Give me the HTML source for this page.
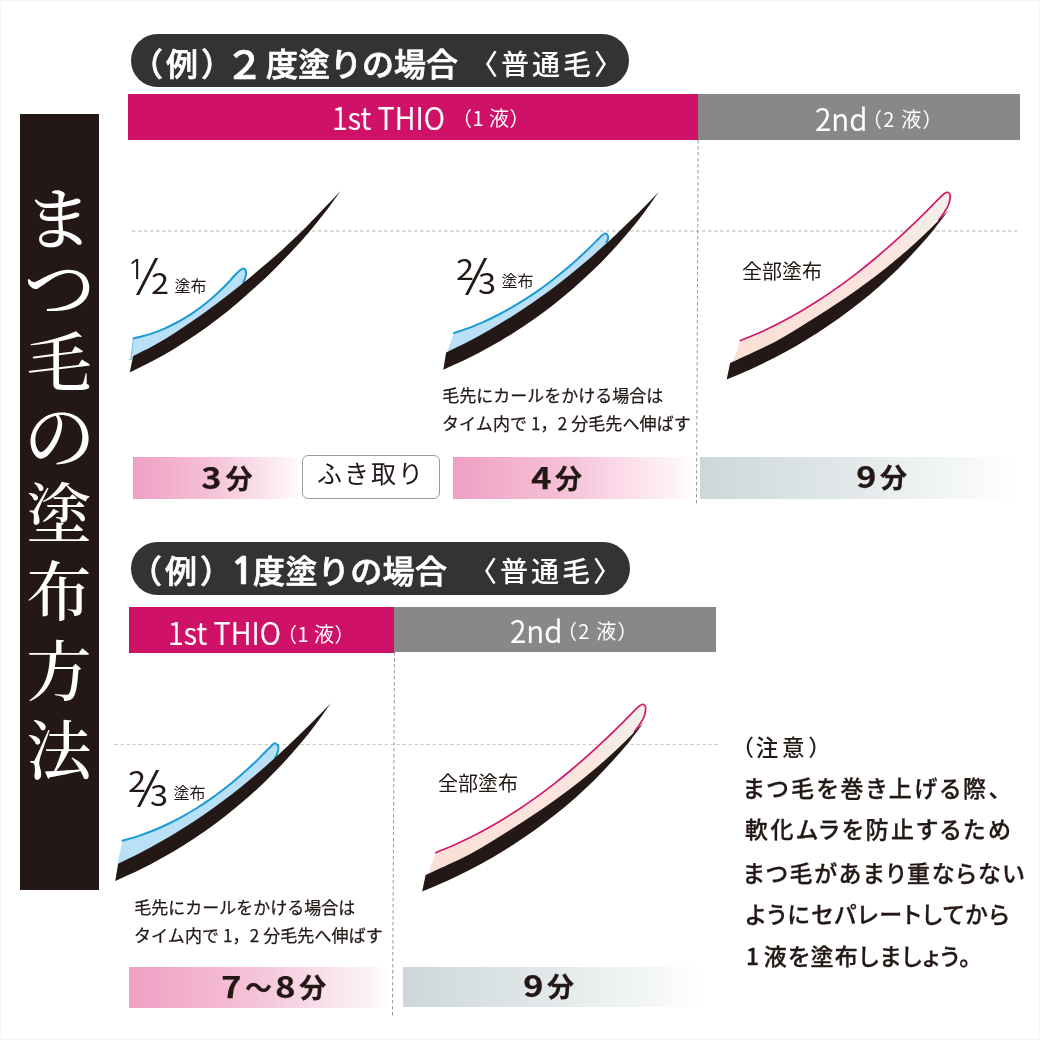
<!DOCTYPE html>
<html lang="ja">
<head>
<meta charset="utf-8">
<title>まつ毛の塗布方法</title>
<style>
html,body{margin:0;padding:0;background:#fff;}
body{width:1040px;height:1040px;position:relative;overflow:hidden;font-family:"Noto Sans CJK JP","Liberation Sans",sans-serif;color:#231815;}
.abs{position:absolute;}
.nw{white-space:nowrap;line-height:1;}
#vbar{left:20px;top:114px;width:79px;height:776px;background:#231815;}
.vt{position:absolute;left:20px;width:79px;text-align:center;color:#fff;font-family:"Noto Serif CJK JP","Noto Serif CJK SC",serif;font-weight:500;font-size:65px;line-height:1;}
.pill{background:#333;border-radius:27px;color:#fff;}
.pt{color:#fff;font-weight:500;font-size:32px;-webkit-text-stroke:0.7px #fff;}
.pt2{color:#fff;font-weight:500;font-size:28px;letter-spacing:3px;}
.mag{background:#cf1267;}
.gry{background:#888888;}
.hl{color:#fff;font-weight:400;font-size:30px;letter-spacing:-0.6px;-webkit-text-stroke:0.2px #fff;}
.hs{color:#fff;font-weight:400;font-size:20px;}
.gp{background:linear-gradient(90deg,#efa0c3 0%,#f5c0d7 45%,#fdf4f8 93%,#ffffff 100%);}
.gg{background:linear-gradient(90deg,#cdd7d9 0%,#e3e9ea 50%,#ffffff 100%);}
.tm{font-weight:700;font-size:27px;letter-spacing:3px;text-align:center;-webkit-text-stroke:0.25px #231815;}
.tm b{display:inline-block;font-size:29px;font-weight:700;transform:scaleX(1.18);margin:0 2px;}
.sm{font-size:16px;font-weight:400;}
.cap{font-size:17px;font-weight:400;letter-spacing:0;-webkit-text-stroke:0.25px #231815;}
.all{font-size:20px;font-weight:400;}
.fr{font-size:29px;font-weight:400;transform:scaleX(1.12);transform-origin:0 0;}
.sl{font-size:54px;font-weight:400;transform:scaleX(0.82);transform-origin:0 0;}
.note{font-size:23px;font-weight:500;letter-spacing:2px;font-feature-settings:"palt";-webkit-text-stroke:0.3px #231815;}
</style>
</head>
<body>
<div id="frame" class="abs" style="left:0;top:0;width:1038px;height:1038px;border:1px solid #f6f6f6"></div>
<!-- vertical title -->
<div id="vbar" class="abs"></div>
<div id="e1" class="vt" style="top:181px;font-size:68px;left:19px">ま</div>
<div id="e2" class="vt" style="top:247px;font-size:72px">つ</div>
<div id="e3" class="vt" style="top:326px;left:19.5px">毛</div>
<div id="e4" class="vt" style="top:396px;font-size:72px">の</div>
<div id="e5" class="vt" style="top:476.7px;left:19.5px">塗</div>
<div id="e6" class="vt" style="top:555px;left:19.5px">布</div>
<div id="e7" class="vt" style="top:635px;left:19.5px">方</div>
<div id="e8" class="vt" style="top:713.5px;left:19.5px">法</div>

<!-- section 1 -->
<div class="abs pill" style="left:131px;top:34px;width:498px;height:53px"></div>
<div id="e9" class="abs nw pt" style="left:131px;top:46px;letter-spacing:3px">（例）</div><div id="e10" class="abs nw pt" style="left:225px;top:42.5px;font-size:39px;font-weight:500">２</div><div id="e11" class="abs nw pt" style="left:266px;top:46px">度塗りの場合</div>
<div id="e12" class="abs nw pt2" style="left:470px;top:49px">〈普通毛〉</div>
<div class="abs mag" style="left:128px;top:94px;width:570px;height:46px"></div>
<div class="abs gry" style="left:698px;top:94px;width:322px;height:46px"></div>
<div id="e13" class="abs nw hl" style="left:332px;top:101px;letter-spacing:0;font-weight:350;font-size:31px;transform:scaleX(0.928);transform-origin:0 0">1st THIO</div>
<div id="e14" class="abs nw hs" style="left:452px;top:108px;letter-spacing:0.5px">（1 液）</div>
<div id="e15" class="abs nw hl" style="left:815px;top:101.5px;font-size:31px;letter-spacing:0;font-weight:350;transform:scaleX(0.955);transform-origin:0 0">2nd</div>
<div id="e16" class="abs nw hs" style="left:862px;top:109px;letter-spacing:1.2px">（2 液）</div>

<div class="abs gp" style="left:133px;top:457px;width:169px;height:42px"></div>
<div id="e17" class="abs nw tm" style="left:144px;top:462px;width:169px"><b>3</b>分</div>
<div class="abs" style="left:302px;top:455px;width:136px;height:42px;border:1px solid #9a9a9a;border-radius:6px;background:#fff"></div>
<div id="e18" class="abs nw" style="left:302px;top:460px;width:138px;text-align:center;font-size:25px;letter-spacing:2px">ふき取り</div>
<div class="abs gp" style="left:453px;top:457px;width:241px;height:42px"></div>
<div id="e19" class="abs nw tm" style="left:453px;top:462px;width:210px"><b>4</b>分</div>
<div class="abs gg" style="left:699.5px;top:457px;width:320.5px;height:41.5px"></div>
<div id="e20" class="abs nw tm" style="left:723px;top:461px;width:320px"><b>9</b>分</div>

<div id="e21" class="abs nw cap" style="left:442.3px;top:386px">毛先にカールをかける場合は</div>
<div id="e22" class="abs nw cap" style="left:442px;top:414px;letter-spacing:0.1px">タイム内で 1，2 分毛先へ伸ばす</div>
<div id="e23" class="abs nw all" style="left:742px;top:261px">全部塗布</div>


<!-- fraction labels -->
<div id="e24" class="abs nw fr" style="left:127.3px;top:256px;font-family:'NanumGothic',sans-serif;font-size:27px">1</div>
<div id="e25" class="abs nw sl" style="left:145px;top:244.5px">⁄</div>
<div id="e26" class="abs nw fr" style="left:150.5px;top:267px">2</div>
<div id="e27" class="abs nw sm" style="left:174.5px;top:277px">塗布</div>
<div id="e28" class="abs nw fr" style="left:456px;top:252.5px">2</div>
<div id="e29" class="abs nw sl" style="left:473.5px;top:245px">⁄</div>
<div id="e30" class="abs nw fr" style="left:478px;top:267px">3</div>
<div id="e31" class="abs nw sm" style="left:501.5px;top:272px">塗布</div>
<div id="e32" class="abs nw fr" style="left:128px;top:764.5px">2</div>
<div id="e33" class="abs nw sl" style="left:145.5px;top:757px">⁄</div>
<div id="e34" class="abs nw fr" style="left:150px;top:779px">3</div>
<div id="e35" class="abs nw sm" style="left:173.5px;top:784px">塗布</div>

<!-- section 2 -->
<div class="abs pill" style="left:131px;top:542px;width:499px;height:53px"></div>
<div id="e36" class="abs nw pt" style="left:130px;top:553px;letter-spacing:3px">（例）</div><div id="e37" class="abs nw pt" style="left:230px;top:554px;font-size:36px;font-family:'NanumGothic',sans-serif;font-weight:700;transform:scaleX(1.15);transform-origin:0 0">1</div><div id="e38" class="abs nw pt" style="left:253px;top:553px;letter-spacing:0.4px">度塗りの場合</div>
<div id="e39" class="abs nw pt2" style="left:469px;top:555.5px">〈普通毛〉</div>
<div class="abs mag" style="left:128.8px;top:606.5px;width:265.7px;height:46px"></div>
<div class="abs gry" style="left:394.3px;top:606.8px;width:321.5px;height:44.8px"></div>
<div id="e40" class="abs nw hl" style="left:167.5px;top:616px;letter-spacing:0;font-size:31px;font-weight:350;transform:scaleX(0.928);transform-origin:0 0">1st THIO</div>
<div id="e41" class="abs nw hs" style="left:277px;top:624px;letter-spacing:0.5px">（1 液）</div>
<div id="e42" class="abs nw hl" style="left:510px;top:614px;font-size:31px;letter-spacing:0;font-weight:350;transform:scaleX(0.955);transform-origin:0 0">2nd</div>
<div id="e43" class="abs nw hs" style="left:557px;top:621px;letter-spacing:1.2px">（2 液）</div>

<div class="abs gp" style="left:129px;top:967px;width:262px;height:41px"></div>
<div id="e44" class="abs nw tm" style="left:130px;top:970.5px;width:290px"><b>7</b>～<b>8</b>分</div>
<div class="abs gg" style="left:403px;top:966.5px;width:304px;height:40.5px"></div>
<div id="e45" class="abs nw tm" style="left:402px;top:970px;width:296px"><b>9</b>分</div>
<div id="e46" class="abs nw cap" style="left:134.3px;top:898px">毛先にカールをかける場合は</div>
<div id="e47" class="abs nw cap" style="left:134px;top:926px;letter-spacing:0.1px">タイム内で 1，2 分毛先へ伸ばす</div>
<div id="e48" class="abs nw all" style="left:438px;top:773px">全部塗布</div>

<!-- note -->
<div id="e49" class="abs nw" style="left:731.5px;top:735px;font-size:22.5px;letter-spacing:3.7px;font-weight:500"><span style="letter-spacing:1.8px">（</span>注意）</div>
<div id="e50" class="abs nw note" style="left:743px;top:776px;letter-spacing:2.6px">まつ毛を巻き上げる際、</div>
<div id="e51" class="abs nw note" style="left:745px;top:817px;letter-spacing:2.6px">軟化ムラを防止するため</div>
<div id="e52" class="abs nw note" style="left:743px;top:861px;letter-spacing:1.85px">まつ毛があまり重ならない</div>
<div id="e53" class="abs nw note" style="left:745.5px;top:901.5px;letter-spacing:1.45px">ようにセパレートしてから</div>
<div id="e54" class="abs nw note" style="left:746px;top:943.5px;letter-spacing:1.25px"><span style="letter-spacing:4.6px">1</span>液を塗布しましょう。</div>

<!-- lashes -->
<svg class="abs" style="left:0;top:0" width="1040" height="1040" viewBox="0 0 1040 1040">
<g fill="none" stroke-dasharray="3.4 2.6">
<line x1="132" y1="231" x2="1020" y2="231" stroke="#b4b4b4" stroke-width="1"/>
<line x1="114.5" y1="744.5" x2="718" y2="744.5" stroke="#bdbdbd" stroke-width="0.8"/>
<line x1="698.2" y1="140" x2="696.5" y2="504" stroke="#8c8c8c" stroke-width="0.9"/>
<line x1="394.5" y1="652" x2="392.5" y2="1016" stroke="#8c8c8c" stroke-width="0.9"/>
</g>
<!--LASH-->
<path d="M133.4,338.4 C135.2,338.0 140.6,336.8 144.2,335.8 C147.7,334.8 151.3,333.7 154.7,332.4 C158.2,331.2 161.6,329.8 165.0,328.3 C168.4,326.8 171.7,325.2 175.0,323.5 C178.2,321.8 181.5,320.0 184.6,318.1 C187.8,316.2 190.9,314.2 194.0,312.1 C197.0,310.0 200.0,307.8 203.0,305.5 C205.9,303.3 208.8,300.9 211.6,298.5 C214.4,296.1 217.1,293.6 219.8,291.0 C222.5,288.5 225.1,285.9 227.6,283.2 C230.2,280.5 233.8,276.4 235.0,275.0 C235.8,274.2 238.6,271.4 240.0,270.3 C241.4,269.2 242.6,268.2 243.6,268.4 C244.6,268.6 245.7,270.1 246.0,271.5 C246.3,272.9 246.0,275.1 245.5,277.0 C245.0,278.9 243.5,282.1 243.1,283.1 L237.3,292.8 L221.1,305.4 L204.6,317.6 L187.8,329.4 L170.6,340.5 L152.9,350.9 L134.6,360.2 L130.9,359.5 Z" fill="#b9e0f7"/>
<path d="M133.4,338.4 C135.2,338.0 140.6,336.8 144.2,335.8 C147.7,334.8 151.3,333.7 154.7,332.4 C158.2,331.2 161.6,329.8 165.0,328.3 C168.4,326.8 171.7,325.2 175.0,323.5 C178.2,321.8 181.5,320.0 184.6,318.1 C187.8,316.2 190.9,314.2 194.0,312.1 C197.0,310.0 200.0,307.8 203.0,305.5 C205.9,303.3 208.8,300.9 211.6,298.5 C214.4,296.1 217.1,293.6 219.8,291.0 C222.5,288.5 225.1,285.9 227.6,283.2 C230.2,280.5 233.8,276.4 235.0,275.0 C235.8,274.2 238.6,271.4 240.0,270.3 C241.4,269.2 242.6,268.2 243.6,268.4 C244.6,268.6 245.7,270.1 246.0,271.5 C246.3,272.9 246.0,275.1 245.5,277.0 C245.0,278.9 243.5,282.1 243.1,283.1" fill="none" stroke="#1a9bd8" stroke-width="2.0" stroke-linecap="round" stroke-linejoin="round"/>
<path d="M133.4,338.4 L130.9,359.3 L128.9,359.8" fill="none" stroke="#5fb8e6" stroke-width="0.9"/>
<path d="M133.1,356.2 C136.7,354.4 147.6,349.0 154.7,345.1 C161.8,341.1 168.6,336.9 175.4,332.5 C182.2,328.2 188.9,323.6 195.5,319.0 C202.1,314.4 208.6,309.6 215.1,304.8 C221.6,299.9 228.0,295.0 234.4,290.0 C240.7,285.0 247.0,279.9 253.3,274.7 C259.5,269.6 265.7,264.4 271.8,259.1 C277.8,253.7 283.9,248.4 289.7,242.8 C295.6,237.3 301.4,231.7 307.1,225.9 C312.7,220.2 318.2,214.3 323.8,208.4 C329.4,202.6 337.8,193.8 340.6,190.9 C338.1,194.4 330.8,204.8 325.6,211.6 C320.5,218.3 315.1,225.0 309.6,231.4 C304.0,237.9 298.3,244.3 292.5,250.5 C286.7,256.7 280.7,262.8 274.7,268.9 C268.6,274.9 262.4,280.8 256.1,286.5 C249.8,292.3 243.4,297.9 236.9,303.4 C230.3,308.9 223.7,314.3 216.9,319.4 C210.1,324.6 203.2,329.6 196.2,334.5 C189.2,339.3 182.1,343.9 174.8,348.4 C167.5,352.8 160.1,357.1 152.6,361.1 C145.1,365.1 133.5,370.6 129.7,372.5 Z" fill="#231815"/>
<path d="M453.9,333.1 C456.4,332.2 464.0,329.7 468.9,327.9 C473.9,326.0 478.8,323.9 483.6,321.8 C488.4,319.6 493.2,317.4 497.9,315.0 C502.6,312.6 507.2,310.0 511.8,307.4 C516.4,304.8 520.9,302.0 525.3,299.2 C529.8,296.3 534.2,293.4 538.5,290.4 C542.8,287.3 547.1,284.2 551.3,281.0 C555.5,277.7 559.6,274.4 563.7,271.0 C567.7,267.7 571.8,264.2 575.7,260.7 C579.6,257.1 583.5,253.5 587.3,249.9 C591.2,246.2 596.7,240.6 598.6,238.8 C599.2,238.1 601.4,235.9 602.5,235.0 C603.6,234.1 604.5,233.2 605.4,233.4 C606.3,233.6 607.6,235.0 608.0,236.0 C608.4,237.0 608.1,238.4 607.8,239.5 C607.5,240.6 606.6,242.0 606.4,242.5 L601.1,253.6 L585.6,267.1 L569.7,280.3 L553.5,292.9 L536.8,304.9 L519.7,316.4 L502.2,327.3 L484.4,337.7 L466.2,347.4 L447.6,356.5 L447.5,351.5 Z" fill="#b9e0f7"/>
<path d="M453.9,333.1 C456.4,332.2 464.0,329.7 468.9,327.9 C473.9,326.0 478.8,323.9 483.6,321.8 C488.4,319.6 493.2,317.4 497.9,315.0 C502.6,312.6 507.2,310.0 511.8,307.4 C516.4,304.8 520.9,302.0 525.3,299.2 C529.8,296.3 534.2,293.4 538.5,290.4 C542.8,287.3 547.1,284.2 551.3,281.0 C555.5,277.7 559.6,274.4 563.7,271.0 C567.7,267.7 571.8,264.2 575.7,260.7 C579.6,257.1 583.5,253.5 587.3,249.9 C591.2,246.2 596.7,240.6 598.6,238.8 C599.2,238.1 601.4,235.9 602.5,235.0 C603.6,234.1 604.5,233.2 605.4,233.4 C606.3,233.6 607.6,235.0 608.0,236.0 C608.4,237.0 608.1,238.4 607.8,239.5 C607.5,240.6 606.6,242.0 606.4,242.5" fill="none" stroke="#1a9bd8" stroke-width="2.0" stroke-linecap="round" stroke-linejoin="round"/>
<path d="M446.1,352.5 C449.8,350.7 460.8,345.4 468.0,341.7 C475.2,337.9 482.4,334.0 489.4,330.0 C496.5,325.9 503.4,321.8 510.3,317.4 C517.2,313.1 524.0,308.7 530.7,304.1 C537.3,299.5 544.0,294.8 550.5,290.0 C557.0,285.1 563.4,280.2 569.7,275.1 C576.0,270.0 582.2,264.8 588.4,259.5 C594.5,254.2 600.6,248.7 606.6,243.3 C612.6,237.8 618.5,232.2 624.3,226.5 C630.2,220.9 636.0,215.1 641.7,209.4 C647.4,203.6 655.9,194.8 658.7,191.9 C656.3,195.4 649.0,206.0 643.8,212.9 C638.7,219.7 633.3,226.5 627.8,233.0 C622.3,239.6 616.6,246.0 610.8,252.3 C604.9,258.5 598.9,264.7 592.7,270.6 C586.5,276.6 580.2,282.4 573.7,288.0 C567.2,293.6 560.6,299.1 553.8,304.4 C547.1,309.7 540.2,314.8 533.2,319.7 C526.1,324.6 519.0,329.4 511.7,333.9 C504.4,338.5 497.0,342.9 489.5,347.0 C482.0,351.2 474.4,355.2 466.7,359.0 C459.0,362.8 447.2,367.9 443.3,369.7 Z" fill="#231815"/>
<defs><linearGradient id="pg1" gradientUnits="userSpaceOnUse" x1="740" y1="345" x2="946" y2="196"><stop offset="0" stop-color="#fae0d7"/><stop offset="0.72" stop-color="#fae6df"/><stop offset="1" stop-color="#f1f0ed"/></linearGradient><linearGradient id="pg2" gradientUnits="userSpaceOnUse" x1="435.5" y1="857" x2="641.5" y2="708"><stop offset="0" stop-color="#fae0d7"/><stop offset="0.72" stop-color="#fae6df"/><stop offset="1" stop-color="#f1f0ed"/></linearGradient></defs>
<path d="M740.4,340.6 C743.9,339.1 754.6,334.9 761.5,331.8 C768.4,328.6 775.2,325.3 782.0,321.8 C788.7,318.3 795.3,314.6 801.8,310.8 C808.3,306.9 814.7,302.9 821.1,298.8 C827.4,294.7 833.6,290.4 839.8,285.9 C845.9,281.5 852.0,277.0 858.0,272.3 C863.9,267.7 869.8,262.9 875.6,258.0 C881.4,253.1 887.2,248.1 892.8,243.1 C898.5,238.0 904.1,232.9 909.6,227.6 C915.1,222.4 920.6,217.1 925.9,211.8 C931.3,206.4 939.2,198.3 941.9,195.6 C942.4,195.2 944.0,193.8 945.0,193.2 C946.0,192.6 947.0,192.0 947.8,192.3 C948.6,192.6 949.7,193.7 950.0,195.0 C950.3,196.3 950.1,198.2 949.8,200.0 C949.5,201.8 948.8,204.1 948.0,206.0 C947.2,207.9 946.5,208.9 945.0,211.2 C943.5,213.6 939.8,218.5 938.8,220.0 L935.8,228.8 L920.9,243.1 L905.5,256.9 L889.7,270.3 L873.4,283.0 L856.7,295.2 L839.6,306.8 L822.2,318.0 L804.8,329.0 L787.3,339.9 L769.1,349.6 L750.4,358.4 L731.6,367.1 L732.5,362.0 Z" fill="url(#pg1)"/>
<path d="M740.4,340.6 C743.9,339.1 754.6,334.9 761.5,331.8 C768.4,328.6 775.2,325.3 782.0,321.8 C788.7,318.3 795.3,314.6 801.8,310.8 C808.3,306.9 814.7,302.9 821.1,298.8 C827.4,294.7 833.6,290.4 839.8,285.9 C845.9,281.5 852.0,277.0 858.0,272.3 C863.9,267.7 869.8,262.9 875.6,258.0 C881.4,253.1 887.2,248.1 892.8,243.1 C898.5,238.0 904.1,232.9 909.6,227.6 C915.1,222.4 920.6,217.1 925.9,211.8 C931.3,206.4 939.2,198.3 941.9,195.6 C942.4,195.2 944.0,193.8 945.0,193.2 C946.0,192.6 947.0,192.0 947.8,192.3 C948.6,192.6 949.7,193.7 950.0,195.0 C950.3,196.3 950.1,198.2 949.8,200.0 C949.5,201.8 948.8,204.1 948.0,206.0 C947.2,207.9 946.5,208.9 945.0,211.2 C943.5,213.6 939.8,218.5 938.8,220.0" fill="none" stroke="#d2186c" stroke-width="1.7" stroke-linecap="round" stroke-linejoin="round"/>
<path d="M730.1,363.1 C733.8,361.4 745.0,356.3 752.3,352.8 C759.7,349.4 767.1,346.0 774.3,342.2 C781.5,338.4 788.4,334.2 795.3,330.0 C802.3,325.8 809.1,321.4 816.0,317.0 C822.9,312.6 829.7,308.3 836.5,303.8 C843.3,299.3 850.1,294.8 856.7,290.1 C863.4,285.4 870.0,280.6 876.4,275.6 C882.9,270.6 889.2,265.5 895.4,260.3 C901.7,255.0 907.8,249.7 913.9,244.2 C919.9,238.7 925.8,233.1 931.6,227.4 C937.5,221.7 945.9,212.9 948.8,210.0 C946.1,213.4 938.5,223.7 933.1,230.4 C927.7,237.0 922.1,243.5 916.3,249.8 C910.5,256.2 904.6,262.3 898.5,268.4 C892.4,274.4 886.1,280.2 879.7,285.9 C873.2,291.6 866.6,297.1 859.9,302.5 C853.2,307.8 846.4,313.0 839.4,318.0 C832.4,323.0 825.3,327.8 818.1,332.5 C810.9,337.1 803.5,341.6 796.1,345.9 C788.6,350.2 781.1,354.3 773.5,358.2 C765.8,362.1 758.1,365.8 750.3,369.4 C742.5,372.9 730.6,377.7 726.7,379.4 Z" fill="#231815"/>
<path d="M122.5,840.7 C125.1,839.9 133.0,837.8 138.1,836.1 C143.2,834.4 148.3,832.5 153.3,830.5 C158.2,828.5 163.2,826.3 168.0,824.0 C172.8,821.7 177.6,819.2 182.3,816.6 C187.0,814.0 191.6,811.3 196.2,808.5 C200.8,805.6 205.3,802.6 209.7,799.6 C214.1,796.5 218.4,793.3 222.7,790.0 C227.0,786.7 231.2,783.3 235.3,779.9 C239.5,776.4 243.5,772.8 247.5,769.2 C251.5,765.6 255.4,761.9 259.3,758.1 C263.1,754.3 268.7,748.5 270.6,746.6 C271.0,746.2 272.2,744.8 273.0,744.3 C273.8,743.8 274.4,743.1 275.3,743.4 C276.2,743.7 277.7,744.9 278.2,746.0 C278.7,747.1 278.4,748.7 278.2,750.0 C278.0,751.3 277.5,752.6 277.0,754.0 C276.5,755.4 275.3,757.8 275.0,758.5 L273.1,764.9 L257.6,778.4 L241.7,791.6 L225.5,804.2 L208.8,816.2 L191.7,827.7 L174.2,838.6 L156.4,849.0 L138.2,858.7 L119.6,867.8 L117.3,864.0 Z" fill="#b9e0f7"/>
<path d="M122.5,840.7 C125.1,839.9 133.0,837.8 138.1,836.1 C143.2,834.4 148.3,832.5 153.3,830.5 C158.2,828.5 163.2,826.3 168.0,824.0 C172.8,821.7 177.6,819.2 182.3,816.6 C187.0,814.0 191.6,811.3 196.2,808.5 C200.8,805.6 205.3,802.6 209.7,799.6 C214.1,796.5 218.4,793.3 222.7,790.0 C227.0,786.7 231.2,783.3 235.3,779.9 C239.5,776.4 243.5,772.8 247.5,769.2 C251.5,765.6 255.4,761.9 259.3,758.1 C263.1,754.3 268.7,748.5 270.6,746.6 C271.0,746.2 272.2,744.8 273.0,744.3 C273.8,743.8 274.4,743.1 275.3,743.4 C276.2,743.7 277.7,744.9 278.2,746.0 C278.7,747.1 278.4,748.7 278.2,750.0 C278.0,751.3 277.5,752.6 277.0,754.0 C276.5,755.4 275.3,757.8 275.0,758.5" fill="none" stroke="#1a9bd8" stroke-width="2.0" stroke-linecap="round" stroke-linejoin="round"/>
<path d="M118.1,863.8 C121.8,862.0 132.8,856.7 140.0,853.0 C147.2,849.2 154.4,845.3 161.4,841.3 C168.5,837.2 175.4,833.1 182.3,828.7 C189.2,824.4 196.0,820.0 202.7,815.4 C209.3,810.8 216.0,806.1 222.5,801.3 C229.0,796.4 235.4,791.5 241.7,786.4 C248.0,781.3 254.2,776.1 260.4,770.8 C266.5,765.5 272.6,760.0 278.6,754.6 C284.6,749.1 290.5,743.5 296.3,737.8 C302.2,732.2 308.0,726.4 313.7,720.7 C319.4,714.9 327.9,706.1 330.7,703.2 C328.3,706.7 321.0,717.3 315.8,724.2 C310.7,731.0 305.3,737.8 299.8,744.3 C294.3,750.9 288.6,757.3 282.8,763.6 C276.9,769.8 270.9,776.0 264.7,781.9 C258.5,787.9 252.2,793.7 245.7,799.3 C239.2,804.9 232.6,810.4 225.8,815.7 C219.1,821.0 212.2,826.1 205.2,831.0 C198.1,835.9 191.0,840.7 183.7,845.2 C176.4,849.8 169.0,854.2 161.5,858.3 C154.0,862.5 146.4,866.5 138.7,870.3 C131.0,874.1 119.2,879.2 115.3,881.0 Z" fill="#231815"/>
<path d="M435.9,852.6 C439.4,851.1 450.1,846.9 457.0,843.8 C463.9,840.6 470.7,837.3 477.5,833.8 C484.2,830.3 490.8,826.6 497.3,822.8 C503.8,818.9 510.2,814.9 516.6,810.8 C522.9,806.7 529.1,802.4 535.3,797.9 C541.4,793.5 547.5,789.0 553.5,784.3 C559.4,779.7 565.3,774.9 571.1,770.0 C576.9,765.1 582.7,760.1 588.3,755.1 C594.0,750.0 599.6,744.9 605.1,739.6 C610.6,734.4 616.1,729.1 621.4,723.8 C626.8,718.4 634.7,710.3 637.4,707.6 C637.9,707.2 639.5,705.8 640.5,705.2 C641.5,704.7 642.5,704.0 643.3,704.3 C644.1,704.6 645.2,705.7 645.5,707.0 C645.8,708.3 645.6,710.2 645.3,712.0 C645.0,713.8 644.3,716.1 643.5,718.0 C642.7,719.9 642.0,720.9 640.5,723.2 C639.0,725.6 635.3,730.5 634.2,732.0 L631.3,740.8 L616.4,755.1 L601.0,768.9 L585.2,782.3 L568.9,795.0 L552.2,807.2 L535.1,818.8 L517.7,830.0 L500.3,841.0 L482.8,851.9 L464.6,861.6 L445.9,870.4 L427.1,879.1 L428.0,874.0 Z" fill="url(#pg2)"/>
<path d="M435.9,852.6 C439.4,851.1 450.1,846.9 457.0,843.8 C463.9,840.6 470.7,837.3 477.5,833.8 C484.2,830.3 490.8,826.6 497.3,822.8 C503.8,818.9 510.2,814.9 516.6,810.8 C522.9,806.7 529.1,802.4 535.3,797.9 C541.4,793.5 547.5,789.0 553.5,784.3 C559.4,779.7 565.3,774.9 571.1,770.0 C576.9,765.1 582.7,760.1 588.3,755.1 C594.0,750.0 599.6,744.9 605.1,739.6 C610.6,734.4 616.1,729.1 621.4,723.8 C626.8,718.4 634.7,710.3 637.4,707.6 C637.9,707.2 639.5,705.8 640.5,705.2 C641.5,704.7 642.5,704.0 643.3,704.3 C644.1,704.6 645.2,705.7 645.5,707.0 C645.8,708.3 645.6,710.2 645.3,712.0 C645.0,713.8 644.3,716.1 643.5,718.0 C642.7,719.9 642.0,720.9 640.5,723.2 C639.0,725.6 635.3,730.5 634.2,732.0" fill="none" stroke="#d2186c" stroke-width="1.7" stroke-linecap="round" stroke-linejoin="round"/>
<path d="M425.6,875.1 C429.3,873.4 440.5,868.3 447.8,864.8 C455.2,861.4 462.6,858.0 469.8,854.2 C477.0,850.4 483.9,846.2 490.8,842.0 C497.8,837.8 504.6,833.4 511.5,829.0 C518.4,824.6 525.2,820.3 532.0,815.8 C538.8,811.3 545.6,806.8 552.2,802.1 C558.9,797.4 565.5,792.6 571.9,787.6 C578.4,782.6 584.7,777.5 590.9,772.3 C597.2,767.0 603.3,761.7 609.4,756.2 C615.4,750.7 621.3,745.1 627.1,739.4 C633.0,733.7 641.4,724.9 644.3,722.0 C641.6,725.4 634.0,735.7 628.6,742.4 C623.2,749.0 617.6,755.5 611.8,761.8 C606.0,768.2 600.1,774.3 594.0,780.4 C587.9,786.4 581.6,792.2 575.2,797.9 C568.7,803.6 562.1,809.1 555.4,814.5 C548.7,819.8 541.9,825.0 534.9,830.0 C527.9,835.0 520.8,839.8 513.6,844.5 C506.4,849.1 499.0,853.6 491.6,857.9 C484.1,862.2 476.6,866.3 469.0,870.2 C461.3,874.1 453.6,877.8 445.8,881.4 C438.0,884.9 426.1,889.7 422.2,891.4 Z" fill="#231815"/>
<!--/LASH-->
</svg>
</body>
</html>
